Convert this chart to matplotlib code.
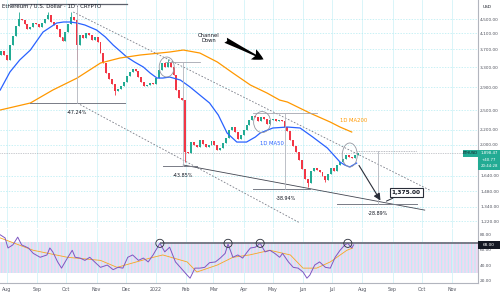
import matplotlib
matplotlib.use("Agg")
import matplotlib.pyplot as plt
import matplotlib.dates as mdates
import matplotlib.transforms as mtransforms
from matplotlib.patches import Ellipse, Rectangle
from matplotlib.ticker import NullLocator
import numpy as np
import pandas as pd

plt.rcParams['font.family'] = ['DejaVu Sans']
plt.rcParams['hatch.linewidth'] = 0.8

start = pd.Timestamp("2021-08-01")

def day(n):
    return start + pd.Timedelta(days=n)

# price candles, one every 3 days
candle_dates = pd.date_range("2021-07-26", periods=123, freq="3D")
first_open = 3560
closes = [3661, 3568, 3454, 3805, 4032, 4301, 4500, 4471, 4357, 4219,
          4274, 4385, 4357, 4274, 4385, 4500, 4618, 4414, 4329, 4219,
          4007, 3904, 4138, 4357, 4558, 4471, 3805, 4059, 3981, 4111,
          4059, 3930, 4007, 3879, 3614, 3388, 3176, 3056, 2959, 2828,
          2865, 2921, 2997, 3115, 3197, 3259, 3217, 3095, 2997, 2921,
          2935, 2978, 2959, 3075, 3238, 3388, 3302, 3410, 3302, 3136,
          2846, 2702, 2668, 1908, 1896, 2035, 1996, 1971, 2062, 2009,
          1971, 1996, 2049, 1996, 1933, 1958, 2022, 2089, 2199, 2242,
          2171, 2075, 2129, 2199, 2271, 2346, 2407, 2392, 2331, 2392,
          2361, 2286, 2346, 2361, 2331, 2346, 2331, 2242, 2185, 2062,
          1984, 1908, 1812, 1710, 1603, 1562, 1688, 1721, 1699, 1677,
          1634, 1593, 1656, 1721, 1688, 1755, 1789, 1824, 1872, 1848,
          1840, 1872, 1898]
wick_highs = {6: 4708, 16: 4708, 24: 4708, 57: 3480}
wick_lows = {26: 3454, 39: 2756, 63: 1789, 105: 1522, 111: 1572}

# moving averages (days after 2021-08-01, price)
ma50_days = [-7, 3, 13, 24, 37, 51, 58, 65, 72, 80, 92, 101, 109, 116, 123,
             131, 140, 147, 154, 160, 167, 178, 188, 198, 208, 217, 226, 236,
             246, 255, 260, 273, 288, 301, 314, 329, 342, 347, 352, 359]
ma50_vals = [2846, 3197, 3454, 3684, 4138, 4385, 4414, 4414, 4385, 4329,
             4192, 4007, 3805, 3661, 3522, 3410, 3302, 3176, 3075, 3075,
             3095, 3036, 2902, 2756, 2618, 2422, 2157, 2035, 2035, 2102,
             2157, 2228, 2242, 2228, 2102, 1958, 1789, 1754, 1733, 1777]
ma200_days = [-7, 24, 47, 72, 96, 116, 137, 167, 181, 198, 216, 232, 250,
              267, 280, 288, 311, 332, 342, 354]
ma200_vals = [2502, 2618, 2846, 3075, 3388, 3499, 3568, 3637, 3684, 3614,
              3410, 3176, 2939, 2792, 2668, 2634, 2454, 2315, 2242, 2171]

# RSI and its moving average
rsi_days = [-7, -2, 1, 6, 11, 15, 22, 27, 34, 41, 44, 47, 52, 56, 62, 67,
            70, 75, 80, 85, 90, 96, 103, 109, 114, 119, 124, 129, 135, 140,
            145, 150, 157, 162, 167, 173, 178, 185, 188, 193, 198, 203, 208,
            214, 219, 224, 227, 232, 237, 242, 248, 250, 255, 260, 265, 270,
            275, 280, 283, 289, 294, 299, 304, 308, 311, 316, 321, 327, 332,
            337, 342, 347, 350, 354, 356]
rsi_vals = [79, 75, 62, 66, 76, 66, 62, 55, 50, 53, 62, 57, 44, 36, 49, 59,
            50, 49, 46, 50, 44, 37, 40, 34, 37, 36, 50, 53, 46, 49,
            44, 53, 68, 57, 63, 44, 37, 27, 23, 36, 36, 37, 43,
            44, 49, 55, 67, 50, 53, 49, 59, 62, 63, 68, 57, 59,
            55, 50, 55, 44, 37, 36, 31, 23, 27, 40, 44, 37, 36,
            50, 59, 66, 68, 62, 66]
rsi_ma_days = [-7, 27, 62, 96, 113, 147, 160, 185, 195, 216, 232, 249, 270,
               291, 304, 318, 332, 349, 355]
rsi_ma_vals = [75, 59, 50, 46, 37, 49, 53, 44, 31, 40, 50, 53, 59, 53, 36,
               36, 44, 59, 62]

# 1,800 sits under the last-price box in the reference, so it is left out
price_ticks = [4500, 4100, 3700, 3300, 2900, 2500, 2200, 2000, 1640,
               1480, 1340, 1220]
rsi_ticks = [80, 60, 40, 20]
months = pd.date_range("2021-08-01", "2022-11-01", freq="MS")
month_labels = ["Aug", "Sep", "Oct", "Nov", "Dec", "2022", "Feb", "Mar", "Apr",
                "May", "Jun", "Jul", "Aug", "Sep", "Oct", "Nov"]

# drawings
channel_upper = [(68, 4708), (434, 1493)]
channel_lower = [(72, 2618), (301, 1207)]
support_line = [(181, 1755), (429, 1312)]
# top price, top span, bottom price, bottom span, vertical day, label
measures = [
    (4957, (3, 123), 2618, (24, 121), 72, "-47.24%"),
    (3410, (162, 198), 1743, (160, 195), 181, "-43.85%"),
    (2454, (253, 318), 1502, (253, 311), 286, "-38.94%"),
    (1920, (359, 421), 1364, (339, 421), 381, "-28.89%"),
]
circles = [(164, 3302, 0.15, 0.20), (262, 2315, 0.17, 0.21), (352, 1872, 0.15, 0.24)]
rsi_level = 68
rsi_circle_days = [157, 227, 260, 350]
last_price = 1898.47
target = 1375

GREEN = '#22ab94'
RED = '#f23645'
GRID_H = '#b2ebf2'
GRID_V = '#d3f4f8'
TXT = '#50535e'
LBL = 3.1

fig = plt.figure(figsize=(5, 2.95), dpi=100)
ax = fig.add_axes([0, 67 / 295, 478 / 500, 228 / 295])
rax = fig.add_axes([0, 12 / 295, 478 / 500, 54 / 295], sharex=ax)

xlim = (start - pd.Timedelta(days=7.2), start + pd.Timedelta(days=483.7))

# ---- price panel
ax.set_yscale('log')
opens = [first_open] + closes[:-1]
highs = [max(o, c) for o, c in zip(opens, closes)]
lows = [min(o, c) for o, c in zip(opens, closes)]
for i, v in wick_highs.items():
    highs[i] = v
for i, v in wick_lows.items():
    lows[i] = v
colors = [GREEN if c >= o else RED for o, c in zip(opens, closes)]
ax.vlines(candle_dates, lows, highs, colors=colors, lw=0.6, zorder=3)
ax.bar(candle_dates, np.abs(np.subtract(closes, opens)) + 1,
       bottom=np.minimum(opens, closes), width=2.0, color=colors, lw=0, zorder=3)

ax.plot([day(d) for d in ma50_days], ma50_vals, color='#2962ff', lw=0.9, zorder=4)
ax.plot([day(d) for d in ma200_days], ma200_vals, color='#ff9800', lw=0.9, zorder=4)

ax.axhline(last_price, color='#9598a1', lw=0.5, ls=(0, (1, 1.5)), zorder=2)

for line, style, col in [(channel_upper, (0, (2, 2)), '#787b86'),
                         (channel_lower, (0, (2, 2)), '#787b86'),
                         (support_line, '-', '#434651')]:
    ax.plot([day(p[0]) for p in line], [p[1] for p in line], color=col,
            lw=0.6, ls=style, zorder=5)

for i, (top, tspan, bot, bspan, vd, lab) in enumerate(measures):
    top_col = '#5d606b' if i == 0 else '#a3a6af'
    top_ls = '-' if i < 3 else (0, (1, 1))
    ax.plot([day(tspan[0]), day(tspan[1])], [top, top], color=top_col,
            lw=0.9 if i == 0 else 0.6, ls=top_ls, zorder=5)
    ax.plot([day(bspan[0]), day(bspan[1])], [bot, bot], color='#787b86',
            lw=0.7, zorder=5)
    ax.plot([day(vd), day(vd)], [top, bot], color='#b2b5be', lw=0.6, zorder=5)
    ax.annotate(lab, (day(vd), bot), xytext=(0, -7), textcoords='offset points',
                ha='center', va='center', fontsize=3.5, color='#131722', zorder=6)

ax.set_xlim(*xlim)
ax.set_ylim(1169, 5087)

for d, p, w, h in circles:
    tr = fig.dpi_scale_trans + mtransforms.ScaledTranslation(
        mdates.date2num(day(d)), float(p), ax.transData)
    ax.add_patch(Ellipse((0, 0), w, h, transform=tr, fill=False,
                         ec='#9598a1', lw=0.6, zorder=6))

ax.annotate("", xy=(day(385), target), xytext=(day(360), 1777),
            arrowprops=dict(arrowstyle='-|>,head_length=0.4,head_width=0.2',
                            color='#2a2e39', lw=0.8), zorder=6)
ax.annotate("1,375.00", xy=(day(387), 1380), xytext=(day(410), 1474),
            ha='center', va='center', fontsize=4.2, fontweight='bold',
            color='#131722',
            bbox=dict(boxstyle='square,pad=0.35', fc='white', ec='#2a2e39', lw=0.8),
            arrowprops=dict(arrowstyle='-', color='#2a2e39', lw=0.7), zorder=7)

ax.text(day(207), 3981, "Channel\nDown", ha='center', va='center',
        fontsize=3.8, color='#131722', linespacing=1.1, zorder=6)
ax.annotate("", xy=(day(266), 3440), xytext=(day(222), 3956),
            arrowprops=dict(arrowstyle='fancy,head_length=0.9,head_width=0.9,tail_width=0.45',
                            color='#000000', lw=0, mutation_scale=9), zorder=6)
ax.text(day(272), 2022, "1D MA50", ha='center', va='center', fontsize=3.8,
        color='#2962ff', zorder=6)
ax.text(day(356), 2331, "1D MA200", ha='center', va='center', fontsize=3.8,
        color='#ff9800', zorder=6)

ax.text(0.004, 0.985, "Ethereum / U.S. Dollar · 1D · CRYPTO", transform=ax.transAxes,
        ha='left', va='top', fontsize=3.9, color='#131722', zorder=8)

ax.set_yticks(price_ticks)
ax.yaxis.set_minor_locator(NullLocator())
ax.set_yticklabels([f"{v:,.2f}" for v in price_ticks])
ax.yaxis.tick_right()
ax.tick_params(axis='y', length=0, pad=1.5, labelsize=LBL, colors=TXT)
ax.set_xticks(months)
ax.tick_params(axis='x', length=0, labelbottom=False)
ax.grid(axis='y', color=GRID_H, lw=0.5, ls=(0, (2, 2)))
ax.grid(axis='x', color=GRID_V, lw=0.6)
ax.set_axisbelow(True)
for s in ['top', 'left', 'bottom']:
    ax.spines[s].set_visible(False)
ax.spines['right'].set_color('#b2b5be')
ax.spines['right'].set_linewidth(0.8)

# ---- RSI panel
rax.fill_between(list(xlim), 30, 70, facecolor='#f2d8f1', edgecolor='#bdeef6',
                 hatch='|||||', lw=0, zorder=0)
rax.plot([day(d) for d in rsi_ma_days], rsi_ma_vals, color='#f5a623', lw=0.6, zorder=3)
rax.plot([day(d) for d in rsi_days], rsi_vals, color='#7e57c2', lw=0.7, zorder=4)
rax.hlines(rsi_level, day(157), xlim[1], color='#5d606b', lw=1.1, zorder=5)
rax.scatter([day(d) for d in rsi_circle_days], [rsi_level] * len(rsi_circle_days),
            s=34, facecolors='none', edgecolors='#2a2e39', linewidths=0.6, zorder=6)
rax.set_ylim(16.8, 86.5)
rax.set_yticks(rsi_ticks)
rax.set_yticklabels([f"{v:.2f}" for v in rsi_ticks])
rax.yaxis.tick_right()
rax.tick_params(axis='y', length=0, pad=1.5, labelsize=LBL, colors=TXT)
rax.set_xticks(months)
rax.set_xticklabels(month_labels)
rax.tick_params(axis='x', length=0, pad=3, labelsize=3.4, colors=TXT)
rax.grid(axis='x', color=GRID_V, lw=0.6)
rax.set_axisbelow(True)
rax.set_xlim(*xlim)
for s in ['top', 'left']:
    rax.spines[s].set_visible(False)
rax.spines['right'].set_color('#b2b5be')
rax.spines['right'].set_linewidth(0.8)
rax.spines['bottom'].set_color('#b2b5be')
rax.spines['bottom'].set_linewidth(0.8)

# ---- axis labels in the right margin
fig.text(483 / 500, 1 - 7 / 295, "USD", fontsize=LBL, color='#131722', va='center')
fig.patches.append(Rectangle((478 / 500, 1 - 170 / 295), 22 / 500, 20 / 295,
                             transform=fig.transFigure, fc=GREEN, ec='none', zorder=5))
fig.patches.append(Rectangle((463 / 500, 1 - 157 / 295), 15 / 500, 7 / 295,
                             transform=fig.transFigure, fc=GREEN, ec='none', zorder=5))
fig.text(470.5 / 500, 1 - 153.5 / 295, "ETHUSD", fontsize=2.6, color='#131722',
         ha='center', va='center', zorder=6)
for j, s in enumerate([f"{last_price:,.2f}", "+40.77", "20:44:28"]):
    fig.text(489 / 500, 1 - (153.5 + j * 6.3) / 295, s, fontsize=2.8, color='white',
             ha='center', va='center', zorder=6)
fig.patches.append(Rectangle((478 / 500, 1 - 249 / 295), 22 / 500, 8 / 295,
                             transform=fig.transFigure, fc='#131722', ec='none', zorder=5))
fig.text(489 / 500, 1 - 245 / 295, f"{rsi_level:.2f}", fontsize=3.1, color='white',
         ha='center', va='center', zorder=6)

fig.savefig("out.png", dpi=100, facecolor='white')
